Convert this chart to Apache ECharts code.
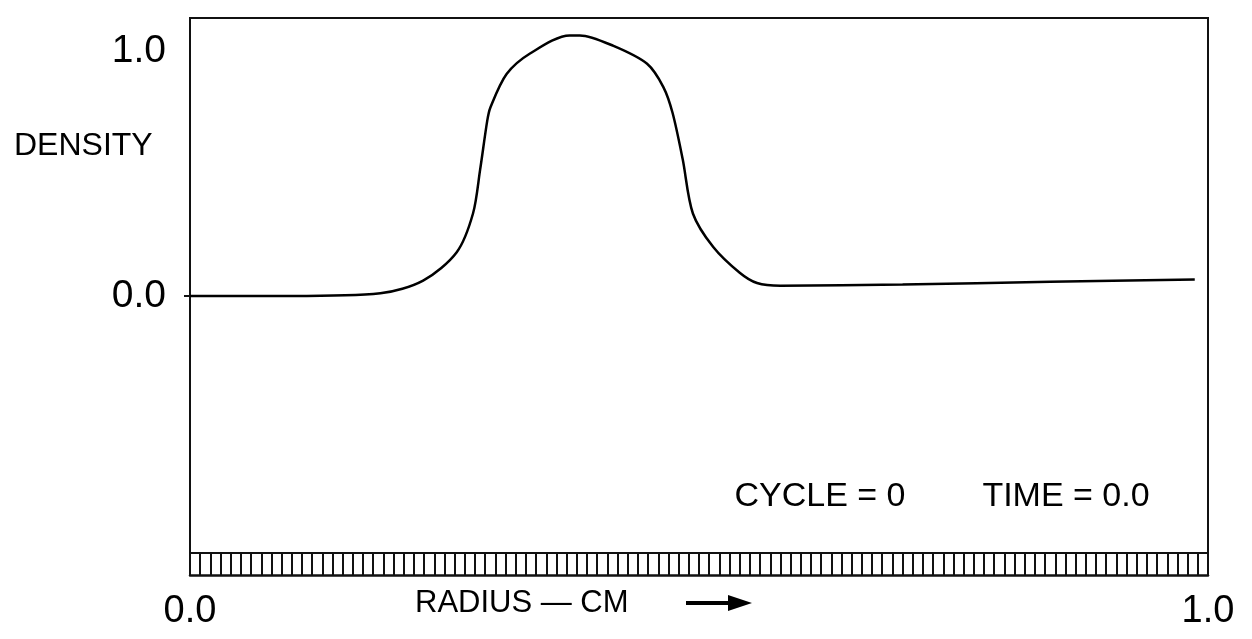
<!DOCTYPE html>
<html>
<head>
<meta charset="utf-8">
<script src="https://cdn.jsdelivr.net/npm/echarts@6/dist/echarts.min.js"></script>
<style>
  html, body { margin: 0; padding: 0; background: #fff; }
  #chart { width: 1252px; height: 639px; }
</style>
</head>
<body>
<div id="chart"></div>
<script>
// radius (cm) and density
const radius = [0.0, 0.10, 0.187, 0.229, 0.262, 0.278, 0.285, 0.292, 0.295, 0.311, 0.334, 0.373, 0.383,
  0.416, 0.449, 0.465, 0.474, 0.484, 0.494, 0.514, 0.540, 0.557, 0.580, 0.70, 0.845, 0.987]
const density = [0.0, 0.0, 0.011, 0.063, 0.179, 0.337, 0.516, 0.716, 0.769, 0.906, 0.99, 1.064, 1.064,
  1.021, 0.948, 0.853, 0.748, 0.558, 0.337, 0.2, 0.095, 0.053, 0.042, 0.047, 0.058, 0.068]
const yTicks = [0, 1]
const xEndLabels = [0, 1]

const FONT = 'Liberation Sans'
const myChart = echarts.init(document.getElementById('chart'))

myChart.setOption({
    animation: false,
    backgroundColor: '#fff',
    grid: {
        left: 190, right: 44, top: 18, bottom: 86,
        show: true, borderColor: '#111', borderWidth: 2
    },
    xAxis: [
        {
            // tick strip under the plot
            type: 'value', min: 0, max: 1, interval: 0.01,
            position: 'bottom',
            axisLine: { show: true, onZero: false, lineStyle: { color: '#111', width: 2 } },
            axisTick: { show: true, inside: false, length: 22, lineStyle: { color: '#111', width: 2 } },
            axisLabel: { show: false },
            splitLine: { show: false }
        },
        {
            type: 'value', min: 0, max: 1, interval: 1,
            position: 'bottom', offset: 22,
            axisLine: { show: true, onZero: false, lineStyle: { color: '#111', width: 2.5 } },
            axisTick: { show: false },
            splitLine: { show: false },
            axisLabel: {
                show: true, margin: 18, color: '#000',
                fontFamily: FONT, fontSize: 38,
                formatter: v => xEndLabels.includes(v) ? v.toFixed(1) : ''
            }
        }
    ],
    yAxis: {
        type: 'value', min: -1.049, max: 1.135,
        axisLine: { show: true, onZero: false, lineStyle: { color: '#111', width: 2 } },
        axisTick: { show: true, length: 6, customValues: [0], lineStyle: { color: '#111', width: 2 } },
        splitLine: { show: false },
        axisLabel: {
            margin: 24, color: '#000', fontFamily: FONT, fontSize: 39,
            customValues: yTicks,
            formatter: v => v.toFixed(1)
        }
    },
    graphic: [
        { type: 'text', left: 14, top: 130,
          style: { text: 'DENSITY', font: '32px "Liberation Sans"', fill: '#000' } },
        { type: 'text', left: 415, top: 588,
          style: { text: 'RADIUS — CM', font: '31px "Liberation Sans"', fill: '#000' } },
        { type: 'line', shape: { x1: 686, y1: 603, x2: 732, y2: 603 },
          style: { stroke: '#000', lineWidth: 4 } },
        { type: 'polygon', shape: { points: [[752, 603], [728, 595], [728, 611]] },
          style: { fill: '#000' } },
        { type: 'text', x: 820, y: 497,
          style: { text: 'CYCLE = 0', font: '34px "Liberation Sans"', fill: '#000',
                   align: 'center', verticalAlign: 'middle' } },
        { type: 'text', x: 1066, y: 497,
          style: { text: 'TIME = 0.0', font: '34px "Liberation Sans"', fill: '#000',
                   align: 'center', verticalAlign: 'middle' } }
    ],
    series: [
        {
            name: 'Density',
            type: 'line',
            xAxisIndex: 0,
            smooth: 0.3,
            showSymbol: false,
            lineStyle: { color: '#000', width: 2.5 },
            data: radius.map((r, i) => [r, density[i]])
        }
    ]
})
</script>
</body>
</html>
